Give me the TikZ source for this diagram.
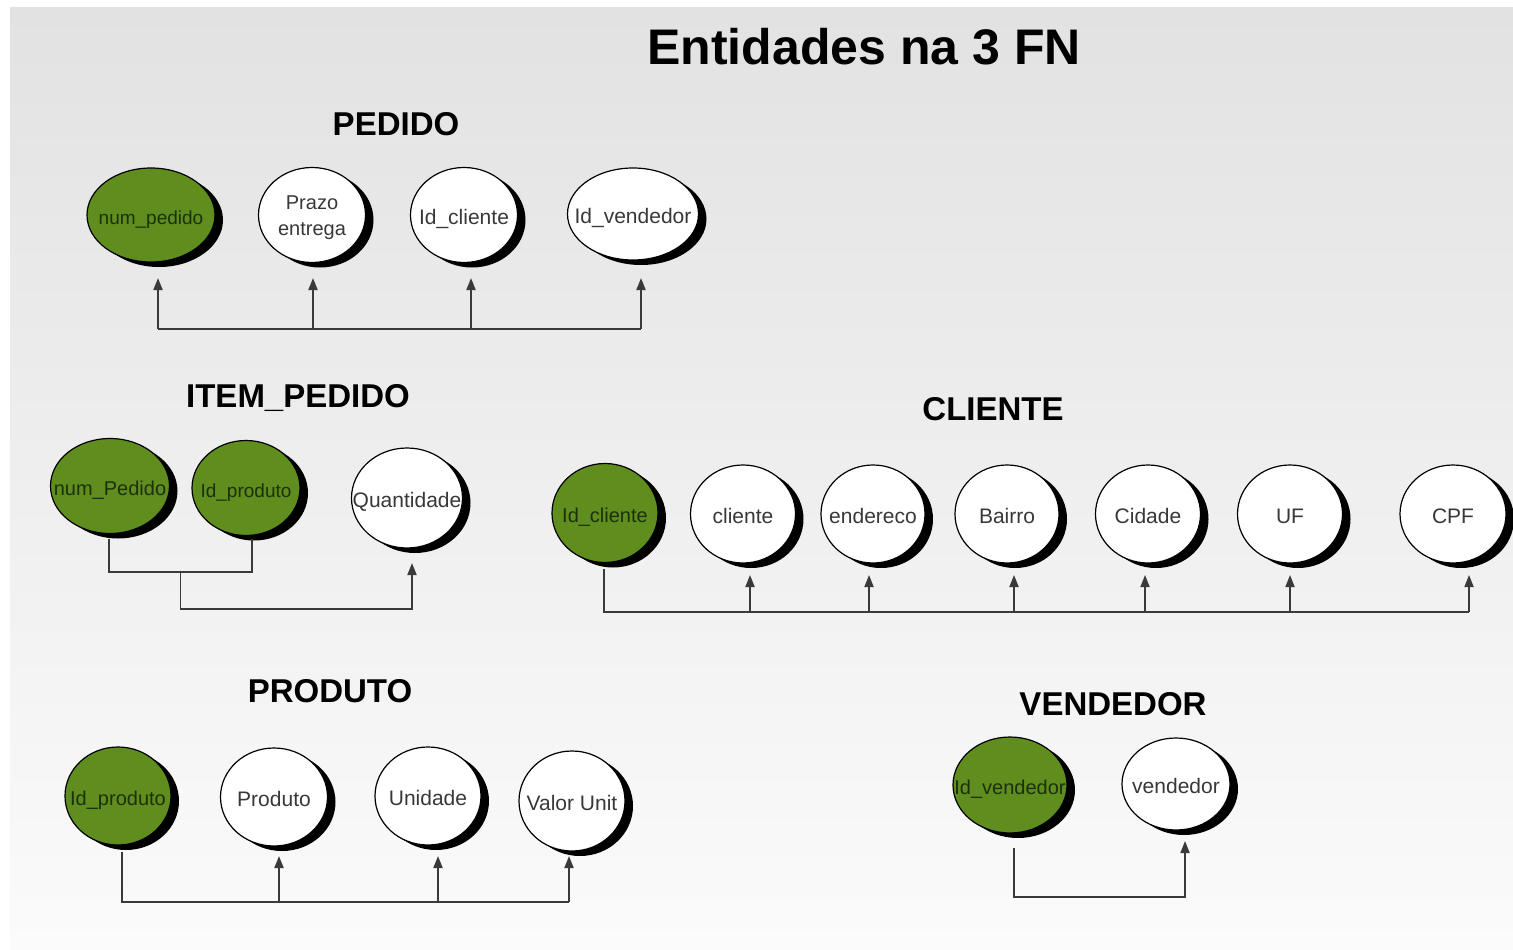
\documentclass[tikz,border=0pt]{standalone}
\usepackage{fontspec}
\setmainfont{Liberation Sans}
\usetikzlibrary{shapes.geometric,shadows,arrows.meta,calc}
\definecolor{keygreen}{HTML}{5F8D1E}
\definecolor{keytext}{HTML}{1C300A}
\definecolor{txtgray}{HTML}{383838}
\definecolor{linegray}{HTML}{3A3A3A}
\definecolor{bgtop}{HTML}{E2E2E2}
\definecolor{bgbot}{HTML}{FBFBFB}
\newcommand\elab[1]{\makebox[0pt]{#1}}
\tikzset{
  ent/.style={ellipse, draw=black, line width=1.2pt, inner sep=0pt, fill=white,
    drop shadow={shadow xshift=8pt, shadow yshift=-5pt, opacity=1, fill=black},
    font=\fontsize{21}{24}\selectfont, text=txtgray, text height=18pt, text depth=0pt},
  keyent/.style={ent, fill=keygreen, text=keytext, font=\fontsize{20}{24}\selectfont},
  ttl/.style={font=\bfseries\fontsize{33}{36}\selectfont, anchor=base, inner sep=0pt},
  ln/.style={draw=linegray, line width=1.8pt},
  arr/.style={ln, -{Triangle[length=12pt,width=9pt]}},
}
\begin{document}
\begin{tikzpicture}[x=1pt,y=-1pt]
\useasboundingbox (0,0) rectangle (1513,950);
\fill[white] (0,0) rectangle (1513,950);
\shade[top color=bgtop, bottom color=bgbot] (10,8) rectangle (1513,950);

% titles
\node[ttl, font=\bfseries\fontsize{50}{56}\selectfont] (title) at (864,65) {Entidades na 3 FN};
\node[ttl] (tped) at (396,135) {PEDIDO};
\node[ttl] (titem) at (298,407) {ITEM\_PEDIDO};
\node[ttl] (tcli) at (993,420) {CLIENTE};
\node[ttl] (tprod) at (330,702) {PRODUTO};
\node[ttl] (tvend) at (1113,715) {VENDEDOR};

% PEDIDO
\node[keyent, minimum width=128pt, minimum height=94pt, font=\fontsize{19}{24}\selectfont] (np) at (151,215) {\elab{num\_pedido}};
\node[ent, minimum width=107pt, minimum height=95pt,
  label={[font=\fontsize{20}{26}\selectfont, text=txtgray, align=center, yshift=-3pt]center:Prazo\\entrega}] (pz) at (312,215) {};
\node[ent, minimum width=107pt, minimum height=95pt] (ic) at (464,215) {\elab{Id\_cliente}};
\node[ent, minimum width=131pt, minimum height=92pt] (iv) at (633,214) {\elab{Id\_vendedor}};
\coordinate (pbus) at (0,329);
\coordinate (ptip) at (0,278);
\draw[ln] ([xshift=7pt]np.center |- pbus) -- ([xshift=8pt]iv.center |- pbus);
\foreach \n/\s in {np/7,pz/1,ic/7,iv/8}
  \draw[arr] ([xshift=\s pt]\n.center |- pbus) -- ([xshift=\s pt]\n.center |- ptip);

% ITEM_PEDIDO
\node[keyent, minimum width=119pt, minimum height=95pt] (inp) at (110,486) {\elab{num\_Pedido}};
\node[keyent, minimum width=108pt, minimum height=95pt, font=\fontsize{19}{24}\selectfont] (iip) at (246,488) {\elab{Id\_produto}};
\node[ent, minimum width=111pt, minimum height=100pt] (iq) at (407,498) {\elab{Quantidade}};
\coordinate (ib1) at (0,572);
\coordinate (ib2) at (0,609);
\coordinate (itip) at (0,563);
\draw[ln] ([xshift=-1pt,yshift=-5pt]inp.south) |- ([xshift=6pt]iip.center |- ib1) -- ([xshift=6pt,yshift=-3pt]iip.south);
\path ($([xshift=-1pt]inp.center)!0.5!([xshift=6pt]iip.center)$) coordinate (imx);
\draw[arr] (imx |- ib1) |- ([xshift=5pt]iq.center |- ib2) -- ([xshift=5pt]iq.center |- itip);

% CLIENTE
\node[keyent, minimum width=106pt, minimum height=99pt] (cic) at (605,513) {\elab{Id\_cliente}};
\node[ent, minimum width=105pt, minimum height=98pt] (ccl) at (743,514) {\elab{cliente}};
\node[ent, minimum width=104pt, minimum height=98pt] (cen) at (873,514) {\elab{endereco}};
\node[ent, minimum width=104pt, minimum height=98pt] (cba) at (1007,514) {\elab{Bairro}};
\node[ent, minimum width=105pt, minimum height=98pt] (cci) at (1148,514) {\elab{Cidade}};
\node[ent, minimum width=105pt, minimum height=98pt] (cuf) at (1290,514) {\elab{UF}};
\node[ent, minimum width=106pt, minimum height=98pt] (ccp) at (1453,514) {\elab{CPF}};
\coordinate (cbus) at (0,612);
\coordinate (ctip) at (0,575);
\draw[ln] ([xshift=-1pt,yshift=-6pt]cic.south) |- ([xshift=16pt]ccp.center |- cbus);
\foreach \n/\s in {ccl/7,cen/-4,cba/7,cci/-3,cuf/0,ccp/16}
  \draw[arr] ([xshift=\s pt]\n.center |- cbus) -- ([xshift=\s pt]\n.center |- ctip);

% PRODUTO
\node[keyent, minimum width=106pt, minimum height=98pt] (rip) at (118,796) {\elab{Id\_produto}};
\node[ent, minimum width=107pt, minimum height=98pt] (rpr) at (274,797) {\elab{Produto}};
\node[ent, minimum width=106pt, minimum height=98pt] (run) at (428,796) {\elab{Unidade}};
\node[ent, minimum width=106pt, minimum height=100pt] (rvu) at (572,801) {\elab{Valor Unit}};
\coordinate (rbus) at (0,902);
\coordinate (rtip) at (0,856);
\draw[ln] ([xshift=4pt,yshift=-6pt]rip.south) |- ([xshift=-3pt]rvu.center |- rbus);
\foreach \n/\s in {rpr/5,run/10,rvu/-3}
  \draw[arr] ([xshift=\s pt]\n.center |- rbus) -- ([xshift=\s pt]\n.center |- rtip);

% VENDEDOR
\node[keyent, minimum width=114pt, minimum height=96pt] (vid) at (1010,785) {\elab{Id\_vendedor}};
\node[ent, minimum width=108pt, minimum height=92pt] (vve) at (1176,784) {\elab{vendedor}};
\coordinate (vbus) at (0,897);
\coordinate (vtip) at (0,841);
\draw[arr] ([xshift=4pt,yshift=-14pt]vid.south) |- ([xshift=9pt]vve.center |- vbus) -- ([xshift=9pt]vve.center |- vtip);
\end{tikzpicture}
\end{document}
